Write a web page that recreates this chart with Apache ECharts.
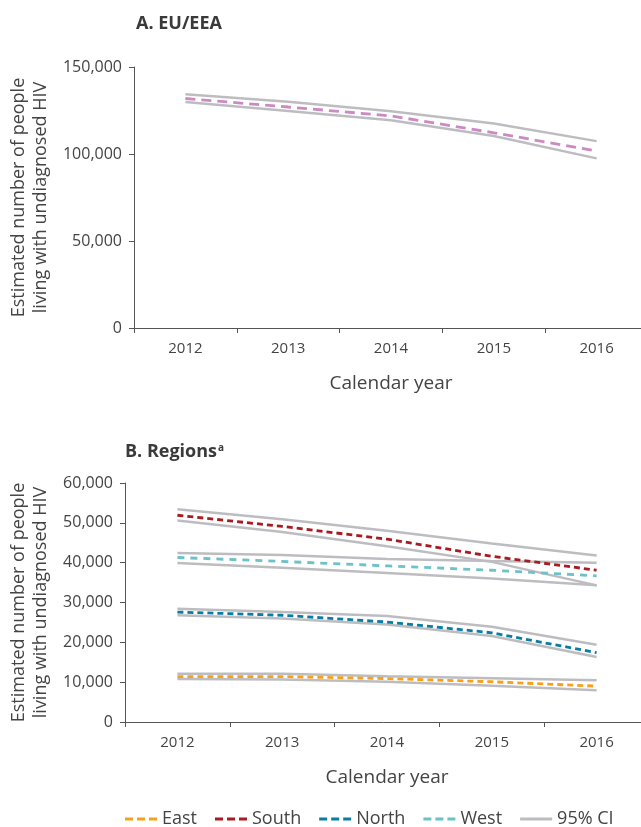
<!DOCTYPE html>
<html>
<head>
<meta charset="utf-8">
<script src="https://cdn.jsdelivr.net/npm/echarts@6/dist/echarts.min.js"></script>
<style>html,body{margin:0;padding:0;background:#fff}#c{width:641px;height:827px}</style>
</head>
<body>
<div id="c"></div>
<script>
const years = ['2012', '2013', '2014', '2015', '2016'];
const euCentral = [131900, 127000, 121900, 112200, 101700];
const euUpper = [134400, 130000, 124600, 117500, 107400];
const euLower = [129900, 124700, 119400, 110300, 97500];

const eastCentral = [11400, 11400, 10900, 10100, 9000];
const eastUpper = [12100, 12100, 11500, 11000, 10500];
const eastLower = [10800, 10700, 10100, 9100, 8000];

const southCentral = [51900, 49100, 45900, 41600, 38100];
const southUpper = [53400, 50900, 48000, 44800, 41800];
const southLower = [50600, 47700, 44100, 40200, 34300];

const northCentral = [27600, 26800, 25100, 22400, 17400];
const northUpper = [28400, 27600, 26600, 23900, 19400];
const northLower = [26800, 26000, 24500, 21600, 16300];

const westCentral = [41300, 40300, 39200, 38100, 36700];
const westUpper = [42400, 41900, 40900, 40400, 40000];
const westLower = [39900, 38700, 37400, 36000, 34300];

const FONT = '"Open Sans", "Noto Sans", sans-serif';
const TXT = '#444';
const CI = '#bdbdc1';

const chart = echarts.init(document.getElementById('c'), null, {renderer: 'canvas'});
const fmt = v => Number(v).toLocaleString('en-US');
const yName = 'Estimated number of people\nliving with undiagnosed HIV';
const DASH_ICON = 'path://M0,0h8v3h-8z M12,0h8v3h-8z M24,0h8v3h-8z';
const SOLID_ICON = 'path://M0,0h32v3h-32z';

function xAxis(gi) {
  return {
    gridIndex: gi, type: 'category', data: years, boundaryGap: true,
    axisLine: {lineStyle: {color: '#555', width: 1}},
    axisTick: {show: true, length: 5, lineStyle: {color: '#555'}},
    axisLabel: {color: TXT, fontFamily: FONT, fontSize: 15, margin: 13},
    name: 'Calendar year', nameLocation: 'middle', nameGap: 46,
    nameTextStyle: {color: TXT, fontFamily: FONT, fontSize: 19}
  };
}
function yAxis(gi, max, interval, gap) {
  return {
    gridIndex: gi, type: 'value', min: 0, max: max, interval: interval,
    splitLine: {show: false},
    axisLine: {show: true, lineStyle: {color: '#555', width: 1}},
    axisTick: {show: true, length: 5, lineStyle: {color: '#555'}},
    axisLabel: {color: TXT, fontFamily: FONT, fontSize: 16, margin: 12, formatter: fmt},
    name: yName, nameLocation: 'middle', nameGap: gap, nameRotate: 90,
    nameTextStyle: {color: TXT, fontFamily: FONT, fontSize: 18, lineHeight: 22}
  };
}
function ciSeries(data, xi) {
  return {name: '95% CI', type: 'line', xAxisIndex: xi, yAxisIndex: xi, data: data,
    symbol: 'none', silent: true, lineStyle: {color: CI, width: 2.5}, itemStyle: {color: CI}, z: 2};
}
function cSeries(name, data, xi, color, dash) {
  return {name: name, type: 'line', xAxisIndex: xi, yAxisIndex: xi, data: data,
    symbol: 'none', lineStyle: {color: color, width: 2.8, type: dash}, itemStyle: {color: color}, z: 3};
}

const option = {
  animation: false,
  backgroundColor: '#fff',
  title: [
    {text: 'A. EU/EEA', left: 131, top: 10,
      textStyle: {fontFamily: FONT, fontWeight: 'bold', fontSize: 18, color: '#3a3a3a'}},
    {text: '{m|B. Regions}{s|a}', left: 120, top: 438,
      textStyle: {rich: {
        m: {fontFamily: FONT, fontWeight: 'bold', fontSize: 18, color: '#3a3a3a'},
        s: {fontFamily: FONT, fontWeight: 'bold', fontSize: 10, color: '#3a3a3a', verticalAlign: 'top', padding: [0, 0, 8, 1]}
      }}}
  ],
  grid: [
    {left: 134, right: -7, top: 67, height: 261, outerBoundsMode: 'none', containLabel: false},
    {left: 125, right: -8, top: 483, height: 239, outerBoundsMode: 'none', containLabel: false}
  ],
  xAxis: [xAxis(0), xAxis(1)],
  yAxis: [yAxis(0, 150000, 50000, 80), yAxis(1, 60000, 10000, 71)],
  legend: {
    bottom: -6, left: 120, itemGap: 18, itemWidth: 32, itemHeight: 3,
    textStyle: {color: TXT, fontFamily: FONT, fontSize: 18},
    data: [
      {name: 'East', icon: DASH_ICON},
      {name: 'South', icon: DASH_ICON},
      {name: 'North', icon: DASH_ICON},
      {name: 'West', icon: DASH_ICON},
      {name: '95% CI', icon: SOLID_ICON}
    ]
  },
  series: [
    ciSeries(euUpper, 0), ciSeries(euLower, 0),
    cSeries('EU/EEA', euCentral, 0, '#cc8ac4', [10, 6]),
    ciSeries(southUpper, 1), ciSeries(southLower, 1),
    ciSeries(westUpper, 1), ciSeries(westLower, 1),
    ciSeries(northUpper, 1), ciSeries(northLower, 1),
    ciSeries(eastUpper, 1), ciSeries(eastLower, 1),
    cSeries('East', eastCentral, 1, '#f5a11c', [6, 4]),
    cSeries('South', southCentral, 1, '#a81b20', [6, 4]),
    cSeries('North', northCentral, 1, '#0a7ea2', [6, 4]),
    cSeries('West', westCentral, 1, '#6cc2c8', [7, 6])
  ]
};
chart.setOption(option);
</script>
</body>
</html>
